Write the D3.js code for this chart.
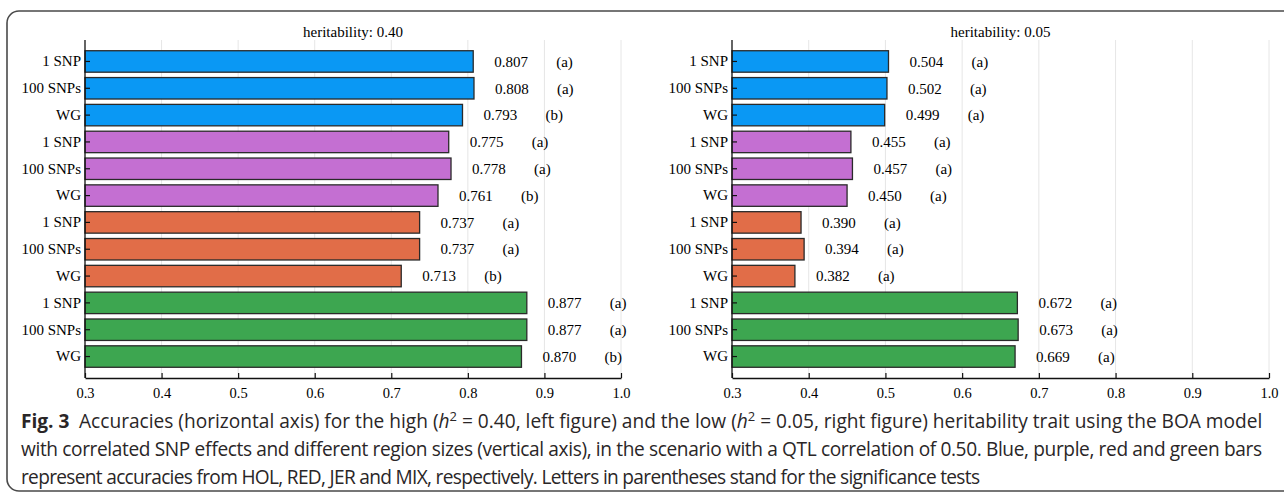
<!DOCTYPE html>
<html>
<head>
<meta charset="utf-8">
<script src="https://cdn.jsdelivr.net/npm/d3@7/dist/d3.min.js"></script>
<style>
  html, body { margin: 0; padding: 0; background: #fff; }
  svg { display: block; }
</style>
</head>
<body>
<svg id="fig" width="1284" height="492"></svg>
<script>
// Region sizes, repeated for each breed group (top to bottom)
const regions = ["1 SNP", "100 SNPs", "WG"];
const breeds = ["HOL", "RED", "JER", "MIX"];
const breedColors = ["#0a98f4", "#c46fd2", "#e16d48", "#3da650"];

// Accuracies, h2 = 0.40 (left panel)
const accHigh = [0.807, 0.808, 0.793, 0.775, 0.778, 0.761, 0.737, 0.737, 0.713, 0.877, 0.877, 0.870];
const sigHigh = ["a", "a", "b", "a", "a", "b", "a", "a", "b", "a", "a", "b"];

// Accuracies, h2 = 0.05 (right panel)
const accLow = [0.504, 0.502, 0.499, 0.455, 0.457, 0.450, 0.390, 0.394, 0.382, 0.672, 0.673, 0.669];
const sigLow = ["a", "a", "a", "a", "a", "a", "a", "a", "a", "a", "a", "a"];

const xTicks = [0.3, 0.4, 0.5, 0.6, 0.7, 0.8, 0.9, 1.0];
const panelTitles = ["heritability: 0.40", "heritability: 0.05"];

const svg = d3.select("#fig");
const serif = "'Liberation Serif', 'Times New Roman', serif";

// Frame around figure
svg.append("path")
  .attr("d", "M1290,11 H19 A12,12 0 0 0 7,23 V479 A12,12 0 0 0 19,491 H1290")
  .attr("fill", "none")
  .attr("stroke", "#4a4a4a")
  .attr("stroke-width", 1.6);

const rows = d3.range(accHigh.length);

function drawPanel(x0, x1, values, sig, title) {
  const top = 40, bottom = 378;
  const x = d3.scaleLinear().domain([0.3, 1.0]).range([x0, x1]);
  const y = d3.scaleBand().domain(rows).range([top, bottom]).paddingInner(0.2).paddingOuter(0.4);
  const g = svg.append("g");

  // vertical grid
  g.selectAll("line.grid").data(xTicks.slice(1)).join("line")
    .attr("class", "grid")
    .attr("x1", d => x(d)).attr("x2", d => x(d))
    .attr("y1", top).attr("y2", bottom)
    .attr("stroke", "#e6e6e6").attr("stroke-width", 1);

  // bars
  g.selectAll("rect.bar").data(rows).join("rect")
    .attr("class", "bar")
    .attr("x", x(0.3))
    .attr("y", i => y(i))
    .attr("width", i => x(values[i]) - x(0.3))
    .attr("height", y.bandwidth())
    .attr("fill", i => breedColors[Math.floor(i / regions.length)])
    .attr("stroke", "#2a2a2a").attr("stroke-width", 1.3);

  // value labels
  g.selectAll("text.val").data(rows).join("text")
    .attr("class", "val")
    .attr("x", i => x(values[i]) + 21)
    .attr("y", i => y(i) + y.bandwidth() / 2)
    .attr("dy", "0.35em")
    .attr("font-family", serif).attr("font-size", 15).attr("fill", "#000")
    .text(i => values[i].toFixed(3));

  // significance letters
  g.selectAll("text.sig").data(rows).join("text")
    .attr("class", "sig")
    .attr("x", i => x(values[i]) + 83)
    .attr("y", i => y(i) + y.bandwidth() / 2)
    .attr("dy", "0.35em")
    .attr("font-family", serif).attr("font-size", 15).attr("fill", "#000")
    .text(i => "(" + sig[i] + ")");

  // y axis
  const yAxis = d3.axisLeft(y).tickSizeInner(-5).tickSizeOuter(0).tickPadding(4)
    .tickFormat(i => regions[i % regions.length]);
  const ya = g.append("g").attr("transform", `translate(${x0},0)`).call(yAxis);
  ya.select(".domain").attr("d", `M0,${top}V${bottom}`).attr("stroke", "#111").attr("stroke-width", 1.3);
  ya.selectAll(".tick line").attr("stroke", "#111").attr("stroke-width", 1.2);
  ya.selectAll(".tick text").attr("font-family", serif).attr("font-size", 15).attr("fill", "#000");

  // x axis
  const xAxis = d3.axisBottom(x).tickValues(xTicks).tickSizeInner(-5).tickSizeOuter(0).tickPadding(10)
    .tickFormat(d3.format(".1f"));
  const xa = g.append("g").attr("transform", `translate(0,${bottom})`).call(xAxis);
  xa.select(".domain").attr("stroke", "#111").attr("stroke-width", 1.3);
  xa.selectAll(".tick line").attr("stroke", "#111").attr("stroke-width", 1.2);
  xa.selectAll(".tick text").attr("font-family", serif).attr("font-size", 14.5).attr("fill", "#000");

  // panel title
  g.append("text")
    .attr("x", (x0 + x1) / 2).attr("y", 32).attr("dy", "0.35em")
    .attr("text-anchor", "middle")
    .attr("font-family", serif).attr("font-size", 15).attr("fill", "#000")
    .text(title);
}

drawPanel(85, 621, accHigh, sigHigh, panelTitles[0]);
drawPanel(732, 1269, accLow, sigLow, panelTitles[1]);

// Caption
const capFont = "'Open Sans', 'Noto Sans', sans-serif";
const capColor = "#2a2627";
const cap = svg.append("g").attr("font-family", capFont).attr("fill", capColor);

function h2(t, val) {
  t.append("tspan").text("(");
  t.append("tspan").attr("font-style", "italic").text("h");
  t.append("tspan").attr("font-size", "0.68em").attr("dy", "-0.55em").text("2");
  t.append("tspan").attr("dy", "0.374em").text(" = " + val);
}

const l1 = cap.append("text").attr("x", 21).attr("y", 428);
l1.append("tspan").attr("font-weight", "bold").text("Fig. 3");
l1.append("tspan").text("\u2002Accuracies (horizontal axis) for the high ");
h2(l1, "0.40");
l1.append("tspan").text(", left figure) and the low ");
h2(l1, "0.05");
l1.append("tspan").text(", right figure) heritability trait using the BOA model");

const l2 = cap.append("text").attr("x", 21).attr("y", 456)
  .text("with correlated SNP effects and different region sizes (vertical axis), in the scenario with a QTL correlation of 0.50. Blue, purple, red and green bars");
const l3 = cap.append("text").attr("x", 21).attr("y", 484)
  .text("represent accuracies from HOL, RED, JER and MIX, respectively. Letters in parentheses stand for the significance tests");

// size caption so the first line spans the frame width
cap.attr("font-size", 17);
const w1 = l1.node().getComputedTextLength();
const fs = 17 * 1242 / w1;
cap.attr("font-size", fs);
l2.attr("textLength", 1241).attr("lengthAdjust", "spacing");
l3.attr("textLength", 959).attr("lengthAdjust", "spacing");
</script>
</body>
</html>
